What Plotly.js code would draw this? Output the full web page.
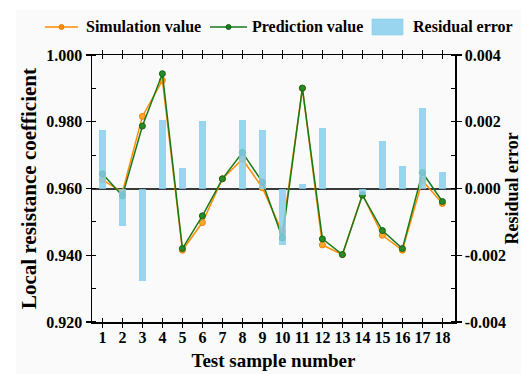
<!DOCTYPE html>
<html>
<head>
<meta charset="utf-8">
<script src="https://cdn.plot.ly/plotly-3.0.1.min.js"></script>
<style>
  html, body { margin: 0; padding: 0; background: #ffffff; }
  #chart { width: 521px; height: 374px; }
</style>
</head>
<body>
<div id="chart"></div>
<script>
// Test samples 1..18
const samples = [1, 2, 3, 4, 5, 6, 7, 8, 9, 10, 11, 12, 13, 14, 15, 16, 17, 18];

// Local resistance coefficient from simulation
const simulationValue = [0.9626, 0.9589, 0.9816, 0.9924, 0.9415, 0.9498, 0.9629, 0.9688, 0.9602,
                         0.9469, 0.9900, 0.9431, 0.9402, 0.9582, 0.9460, 0.9415, 0.9624, 0.9555];

// Local resistance coefficient from the prediction model
const predictionValue = [0.9644, 0.9578, 0.9787, 0.9944, 0.9420, 0.9518, 0.9629, 0.9708, 0.9619,
                         0.9452, 0.9901, 0.9449, 0.9402, 0.9580, 0.9474, 0.9420, 0.9648, 0.9561];

// Residual error (right axis)
const residualError = [0.00175, -0.00113, -0.00276, 0.00206, 0.00060, 0.00201, 0.00000, 0.00206, 0.00176,
                       -0.00168, 0.00013, 0.00182, 0.00000, -0.00020, 0.00142, 0.00068, 0.00242, 0.00048];

const leftTicks = [0.920, 0.940, 0.960, 0.980, 1.000];
const rightTicks = [-0.004, -0.002, 0.000, 0.002, 0.004];

const seriesNames = ['Simulation value', 'Prediction value', 'Residual error'];

const FONT = 'Liberation Serif, Times New Roman, serif';
const ORANGE = '#ff8c00';
const GREEN = '#1a7a1a';
const BLUE = 'rgba(135,206,235,0.85)';

const traces = [
  {
    x: samples, y: simulationValue, name: seriesNames[0],
    type: 'scatter', mode: 'lines+markers', xaxis: 'x', yaxis: 'y',
    line: { color: ORANGE, width: 1.5 },
    marker: { symbol: 'circle', size: 6, color: '#ffa733', line: { color: '#f07f00', width: 1 } }
  },
  {
    x: samples, y: predictionValue, name: seriesNames[1],
    type: 'scatter', mode: 'lines+markers', xaxis: 'x', yaxis: 'y',
    line: { color: GREEN, width: 1.5 },
    marker: { symbol: 'circle', size: 6, color: '#2a8a2a', line: { color: '#136313', width: 1 } }
  },
  {
    x: samples, y: residualError, name: seriesNames[2],
    type: 'bar', xaxis: 'x', yaxis: 'y2', width: 0.33,
    marker: { color: BLUE, line: { width: 0 } }
  }
];

const tickFont = { family: FONT, size: 16, color: '#000', weight: 'bold' };

// Key along the top edge, in paper coordinates (plot area spans x 92..455, y 55..322 px)
const px = v => (v - 92) / 363;
const py = v => (322 - v) / 267;
const keyY = py(27);
const keyShapes = [
  { type: 'line', xref: 'paper', yref: 'paper', x0: px(45), x1: px(78), y0: keyY, y1: keyY,
    line: { color: ORANGE, width: 1.5 } },
  { type: 'circle', xref: 'paper', yref: 'paper', x0: px(59), x1: px(64), y0: py(29.5), y1: py(24.5),
    fillcolor: ORANGE, line: { color: '#f07f00', width: 1 } },
  { type: 'line', xref: 'paper', yref: 'paper', x0: px(210), x1: px(247), y0: keyY, y1: keyY,
    line: { color: GREEN, width: 1.5 } },
  { type: 'circle', xref: 'paper', yref: 'paper', x0: px(226), x1: px(231), y0: py(29.5), y1: py(24.5),
    fillcolor: GREEN, line: { color: '#136313', width: 1 } },
  { type: 'rect', xref: 'paper', yref: 'paper', x0: px(372), x1: px(403), y0: py(35), y1: py(19),
    fillcolor: BLUE, line: { color: 'rgba(135,206,235,0.6)', width: 1 } }
];
const keyFont = { family: FONT, size: 16, color: '#000', weight: 'bold' };
const keyLabels = [
  { text: seriesNames[0], x: px(84) },
  { text: seriesNames[1], x: px(249.5) },
  { text: seriesNames[2], x: px(410.5) }
].map(k => ({
  text: k.text, x: k.x, y: keyY, xref: 'paper', yref: 'paper',
  xanchor: 'left', yanchor: 'middle', showarrow: false, font: keyFont
}));

// Right-hand axis title, close to the figure's right edge
const rightTitle = {
  text: 'Residual error', textangle: -90, x: px(511), y: 0.5, xref: 'paper', yref: 'paper',
  xanchor: 'center', yanchor: 'middle', showarrow: false,
  font: { family: FONT, size: 18, color: '#000', weight: 'bold' }
};

const layout = {
  width: 521, height: 374,
  margin: { l: 92, r: 66, t: 55, b: 52 },
  paper_bgcolor: '#ffffff',
  plot_bgcolor: '#fafafa',
  showlegend: false,
  bargap: 0,
  xaxis: {
    range: [0.48, 18.63], tickmode: 'array', tickvals: samples, ticktext: samples.map(String),
    ticks: 'inside', ticklen: 4, tickwidth: 1.2, tickcolor: '#000',
    showline: true, linecolor: '#000', linewidth: 1.5, mirror: 'allticks',
    showgrid: false, zeroline: false, tickfont: tickFont,
    title: { text: 'Test sample number', font: { family: FONT, size: 19, color: '#000', weight: 'bold' }, standoff: 9 }
  },
  yaxis: {
    range: [0.920, 1.000], tickmode: 'array', tickvals: leftTicks,
    ticktext: leftTicks.map(v => v.toFixed(3)),
    ticks: 'outside', ticklen: 5, tickwidth: 1.2, tickcolor: '#000',
    minor: { dtick: 0.01, tick0: 0.92, ticks: 'inside', ticklen: 4, tickwidth: 1.2, tickcolor: '#000', showgrid: false },
    showline: true, linecolor: '#000', linewidth: 1.5,
    showgrid: false, zeroline: false, tickfont: tickFont,
    title: { text: 'Local resistance coefficient', font: { family: FONT, size: 21, color: '#000', weight: 'bold' }, standoff: 4 }
  },
  yaxis2: {
    overlaying: 'y', side: 'right',
    range: [-0.004, 0.004], tickmode: 'array', tickvals: rightTicks,
    ticktext: rightTicks.map(v => v.toFixed(3)),
    ticks: 'outside', ticklen: 5, tickwidth: 1.2, tickcolor: '#000',
    minor: { dtick: 0.001, tick0: -0.004, ticks: 'inside', ticklen: 4, tickwidth: 1.2, tickcolor: '#000', showgrid: false },
    showline: true, linecolor: '#000', linewidth: 1.5,
    showgrid: false, zeroline: true, zerolinecolor: '#3a3a3a', zerolinewidth: 2,
    tickfont: tickFont
  },
  annotations: keyLabels.concat([rightTitle]),
  shapes: [
    {
      type: 'rect', xref: 'paper', yref: 'paper', layer: 'below',
      x0: px(16), x1: px(521), y0: py(374), y1: py(10),
      fillcolor: '#fafafa', line: { width: 0 }
    }
  ].concat(keyShapes)
};

Plotly.newPlot('chart', traces, layout, { displayModeBar: false, staticPlot: true });
</script>
</body>
</html>
